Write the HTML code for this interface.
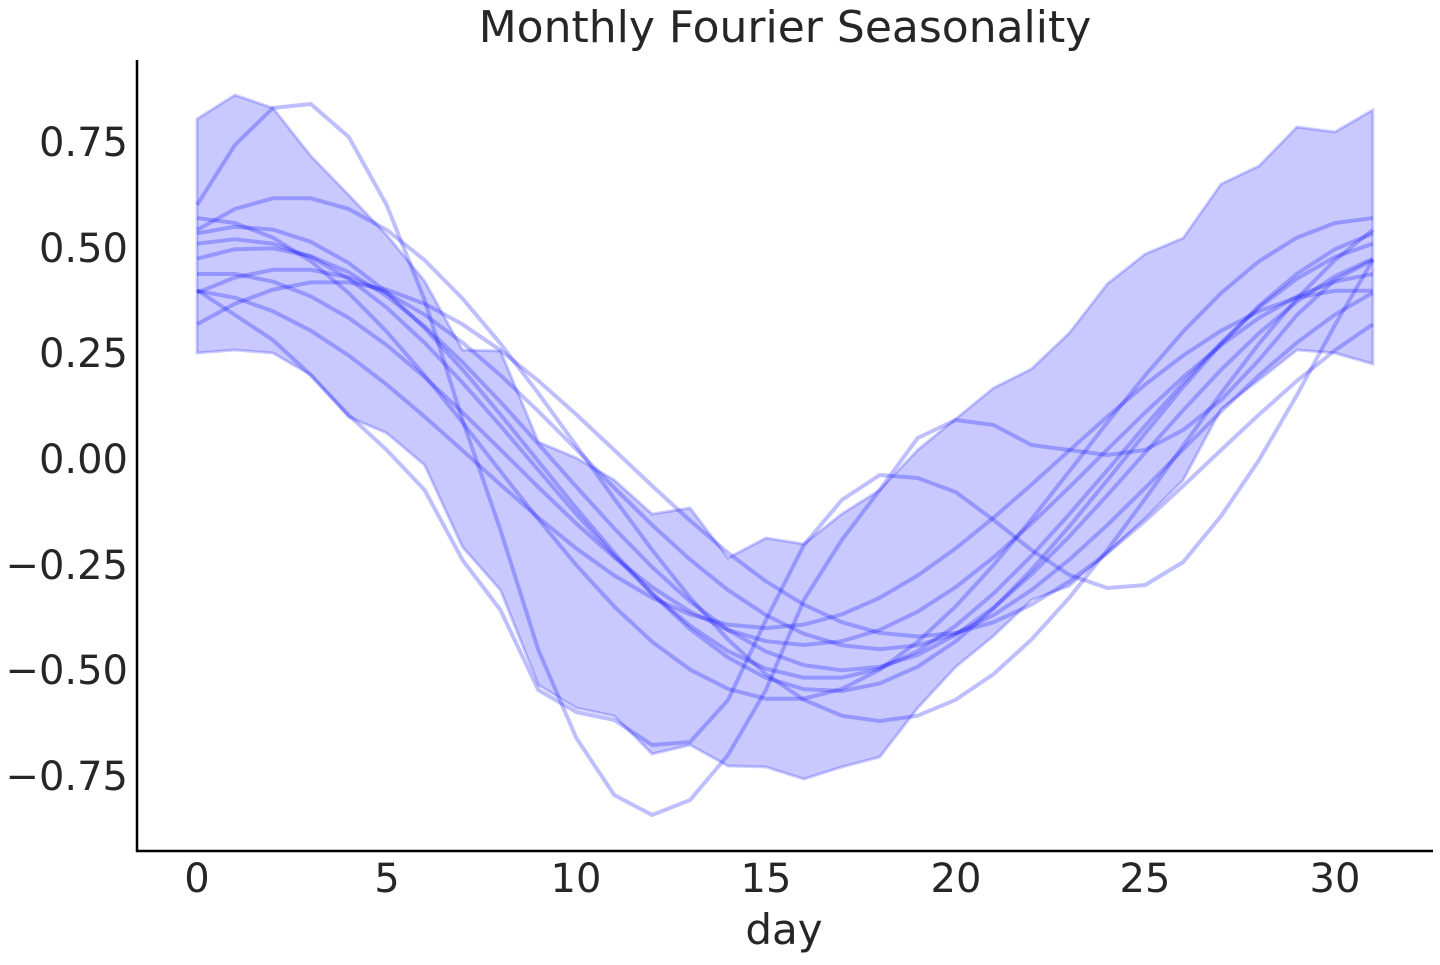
<!DOCTYPE html>
<html><head><meta charset="utf-8"><style>
body{margin:0;background:#fff;width:1440px;height:960px;overflow:hidden}
text{font-family:"DejaVu Sans","Liberation Sans",sans-serif;fill:#262626}
</style></head><body>
<svg id="s" width="1440" height="960" xmlns="http://www.w3.org/2000/svg">
<text x="785" y="42" font-size="44" text-anchor="middle">Monthly Fourier Seasonality</text>
<g id="plot"></g>
<line x1="137" y1="60" x2="137" y2="852" stroke="#000" stroke-width="2.5"/>
<line x1="136" y1="851" x2="1433" y2="851" stroke="#000" stroke-width="2.5"/>
<g font-size="40" text-anchor="end">
<text x="128" y="156">0.75</text><text x="128" y="262">0.50</text><text x="128" y="367">0.25</text>
<text x="128" y="473">0.00</text><text x="128" y="579">−0.25</text><text x="128" y="684">−0.50</text><text x="128" y="790">−0.75</text>
</g>
<g font-size="40" text-anchor="middle">
<text x="197" y="892">0</text><text x="387" y="892">5</text><text x="576" y="892">10</text><text x="766" y="892">15</text>
<text x="956" y="892">20</text><text x="1145" y="892">25</text><text x="1335" y="892">30</text>
<text x="784" y="944" font-size="42">day</text>
</g>
</svg>
<script>
var X=function(d){return 197+37.93*d},Y=function(v){return 459-422.7*v};
var up=[119,95,108,156,195,235,281,350,351,442,458,480,514,508,558,538,544,514,490,450,419,388,369,333,284,254,238,184,166,127,132,110];
var lo=[353,350,353,375,417,433,465,547,590,685,708,716,754,745,766,767,779,767,757,708,667,636,600,586,553,518,480,409,380,350,353,364];
var p="";for(var i=0;i<32;i++)p+=(i?"L":"M")+X(i)+","+up[i];
for(var i=31;i>=0;i--)p+="L"+X(i)+","+lo[i];p+="Z";
var h='<path d="'+p+'" fill="rgba(0,0,255,0.21)" stroke="rgba(0,0,255,0.2)" stroke-width="3"/>';
var lines=[];
lines.push([205,145,108,104,137,205,300,420,530,650,738,795,815,800,755,690,600,540,490,438,420,425,445,450,455,450,430,400,360,315,280,260]);
lines.push([290,315,340,375,415,450,490,560,610,690,712,720,745,742,700,620,545,500,475,478,492,520,550,575,588,585,562,516,460,395,325,260]);
var cs=[[0.62,2.5],[0.55,1.2],[0.45,2.5],[0.44,0.5],[0.5,1.6],[0.42,3.5],[0.57,0],[0.4,-0.5],[0.52,1]];
cs.forEach(function(c){var a=[];for(var d=0;d<32;d++)a.push(Y(c[0]*Math.cos(2*Math.PI*(d-c[1])/31)));lines.push(a);});
lines.forEach(function(a){var q="";a.forEach(function(y,i){q+=(i?"L":"M")+X(i)+","+y;});
h+='<path d="'+q+'" fill="none" stroke="rgba(0,0,255,0.25)" stroke-width="4" stroke-linejoin="round"/>';});
document.getElementById("plot").innerHTML=h;
</script>
</body></html>
